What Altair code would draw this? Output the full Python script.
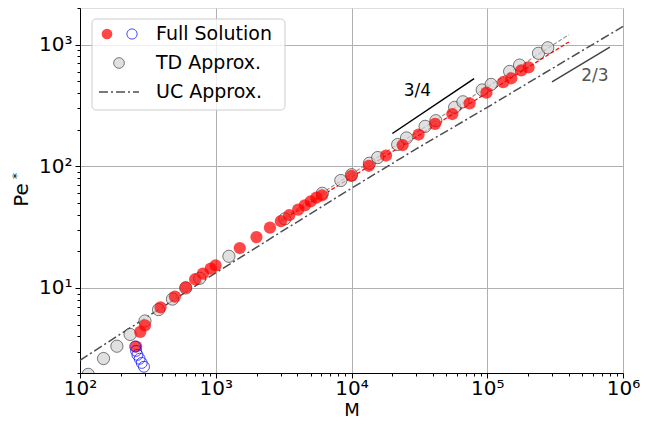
import altair as alt
import pandas as pd

# ---- data ----
td_M = [115, 149, 187, 234, 301, 379, 480, 601, 762, 1250, 3228, 6095, 8340, 10000,
        13550, 15600, 21880, 25450, 34860, 41800, 57500, 66200, 91800, 106900,
        146200, 173000, 238400, 279000]
td_Pe = [1.95, 2.63, 3.32, 4.15, 5.35, 6.64, 8.1, 10.0, 12.0, 18.2, 37.0, 60.0, 76.4, 85.3,
         106, 118, 151, 171, 213, 237, 305, 339, 424, 471, 602, 679, 849, 942]

full_M = [259, 278, 301, 392, 500, 601, 705, 805, 918, 998, 1503, 1995, 2508, 3020, 3475,
          4046, 4528, 5010, 5512, 6066, 10000, 13430, 17960, 23800, 31190, 41230, 55300,
          74130, 98700, 130900, 150400, 178000, 201500]
full_Pe = [3.3, 4.35, 4.93, 6.93, 8.5, 10.1, 11.8, 13.1, 14.4, 15.3, 21.3, 26.2, 31.3, 35.4,
           39.6, 44.1, 47.8, 51.6, 55.2, 57.8, 83.4, 101, 122.6, 149.6, 182.5, 223.5, 269,
           329, 403, 491, 529, 614, 650]

unstable_M = [255, 259, 265, 275, 285, 296]
unstable_Pe = [3.3, 3.04, 2.82, 2.62, 2.42, 2.25]

uc_M = [100, 200, 500, 1000, 3000, 10000, 30000, 100000, 300000, 1000000]
uc_Pe = [2.54, 4.2, 8.1, 13.3, 28.7, 66, 139, 305, 635, 1410]

fit_full_M = [3000, 400000]
fit_full_Pe = [35.3, 1053]
fit_td_M = [3000, 400000]
fit_td_Pe = [36.5, 1208]

slope34_M = [20000, 80000]
slope34_Pe = [186, 526]
slope23_M = [300000, 800000]
slope23_Pe = [495, 952]

slope_labels = ["3/4", "2/3"]
slope_label_M = [30600, 620000]
slope_label_Pe = [419, 551]

legend_labels = ["Full Solution", "TD Approx.", "UC Approx."]

x_major = [100, 1000, 10000, 100000, 1000000]
x_minor = [m * d for d in [100, 1000, 10000, 100000] for m in range(2, 10)]
y_major = [10, 100, 1000]
y_minor = [m * d for d in [1, 10, 100] for m in range(2, 10)] + [2000]

FONT = "DejaVu Sans"
DEC = "abs(log(datum.value)/LN10 - round(log(datum.value)/LN10)) < 0.001"

xs = alt.Scale(type="log", domain=[100, 1000000], nice=False)
ys = alt.Scale(type="log", domain=[2, 2000], nice=False)

xaxis = alt.Axis(
    values=x_major + x_minor,
    labelExpr="datum.value == 100 ? '10²' : datum.value == 1000 ? '10³' : datum.value == 10000 ? '10⁴' : datum.value == 100000 ? '10⁵' : datum.value == 1000000 ? '10⁶' : ''",
    labelOverlap=False, labelFlush=False, labelFont=FONT, labelFontSize=20,
    labelColor="black", labelPadding=0,
    tickSize={"condition": {"test": DEC, "value": 5}, "value": 3},
    tickColor="black", tickWidth=1,
    gridOpacity={"condition": {"test": DEC, "value": 1}, "value": 0},
    gridColor="#b0b0b0", gridWidth=1,
    domainColor="black", domainWidth=1,
    title="M", titleFont=FONT, titleFontSize=18, titleFontWeight="normal",
    titleColor="black", titleBaseline="alphabetic", titleY=42.5,
)
yaxis = alt.Axis(
    values=y_major + y_minor,
    labelExpr="datum.value == 10 ? '10¹' : datum.value == 100 ? '10²' : datum.value == 1000 ? '10³' : ''",
    labelOverlap=False, labelFlush=False, labelFont=FONT, labelFontSize=20,
    labelColor="black", labelPadding=3,
    tickSize={"condition": {"test": DEC, "value": 5}, "value": 3},
    tickColor="black", tickWidth=1,
    gridOpacity={"condition": {"test": DEC, "value": 1}, "value": 0},
    gridColor="#b0b0b0", gridWidth=1,
    domainColor="black", domainWidth=1,
    title=None,
)


def enc(ch):
    return ch.encode(
        x=alt.X("M:Q", scale=xs, axis=xaxis),
        y=alt.Y("Pe:Q", scale=ys, axis=yaxis),
    )


def df(m, p):
    return pd.DataFrame({"M": m, "Pe": p})


uc = enc(alt.Chart(df(uc_M, uc_Pe)).mark_line(
    color="#4d4d4d", strokeWidth=1.5, strokeDash=[9, 3, 2, 3]))
fit_td = enc(alt.Chart(df(fit_td_M, fit_td_Pe)).mark_line(
    color="#999999", strokeWidth=1.2, strokeDash=[4, 2]))
fit_full = enc(alt.Chart(df(fit_full_M, fit_full_Pe)).mark_line(
    color="red", strokeWidth=1.2, strokeDash=[4, 2]))
td = enc(alt.Chart(df(td_M, td_Pe)).mark_point(
    shape="circle", filled=True, size=150, fill="#d3d3d3", fillOpacity=0.7,
    stroke="black", strokeOpacity=0.5, strokeWidth=1, clip=True))
full = enc(alt.Chart(df(full_M, full_Pe)).mark_point(
    shape="circle", filled=True, size=150, color="red", opacity=0.72))
unstable = enc(alt.Chart(df(unstable_M, unstable_Pe)).mark_point(
    shape="circle", filled=False, size=120, color="blue", opacity=0.7, strokeWidth=1))
s34 = enc(alt.Chart(df(slope34_M, slope34_Pe)).mark_line(color="black", strokeWidth=1.5))
s23 = enc(alt.Chart(df(slope23_M, slope23_Pe)).mark_line(color="#444444", strokeWidth=1.5))
lab_df = pd.DataFrame({"M": slope_label_M, "Pe": slope_label_Pe, "t": slope_labels,
                       "c": ["black", "#555555"]})
labs = alt.Chart(lab_df).mark_text(font=FONT, fontSize=17, align="center",
                                   baseline="middle").encode(
    x=alt.X("M:Q", scale=xs, axis=xaxis),
    y=alt.Y("Pe:Q", scale=ys, axis=yaxis),
    text="t:N",
    color=alt.Color("c:N", scale=None),
)

one = pd.DataFrame({"a": [0]})
box = alt.Chart(one).mark_rect(fill="white", fillOpacity=0.8, stroke="#cccccc",
                               strokeWidth=1, cornerRadius=4).encode(
    x=alt.value(12), x2=alt.value(205), y=alt.value(11), y2=alt.value(102))
leg_red = alt.Chart(one).mark_point(shape="circle", filled=True, size=115, color="red",
                                    opacity=0.72).encode(x=alt.value(27), y=alt.value(26))
leg_blue = alt.Chart(one).mark_point(shape="circle", filled=False, size=105, color="blue",
                                     opacity=0.7, strokeWidth=1).encode(
    x=alt.value(52), y=alt.value(26))
leg_gray = alt.Chart(one).mark_point(shape="circle", filled=True, size=115, fill="#d3d3d3",
                                     fillOpacity=0.7, stroke="black", strokeOpacity=0.5,
                                     strokeWidth=1).encode(x=alt.value(39), y=alt.value(55))
leg_line = alt.Chart(one).mark_rule(color="#4d4d4d", strokeWidth=1.5,
                                    strokeDash=[9, 3, 2, 3]).encode(
    x=alt.value(19), x2=alt.value(59), y=alt.value(84))
leg_texts = [
    alt.Chart(one).mark_text(text=t, font=FONT, fontSize=19, align="left",
                             baseline="middle", color="black").encode(
        x=alt.value(76), y=alt.value(yy))
    for t, yy in zip(legend_labels, [26, 55, 84])
]

ytitle = alt.Chart(one).mark_text(text="Pe", font=FONT, fontSize=20, angle=270,
                                  align="center", baseline="middle", color="black").encode(
    x=alt.value(-58.5), y=alt.value(187))
ystar = alt.Chart(one).mark_text(text="*", font=FONT, fontSize=13, angle=270,
                                 align="center", baseline="middle", color="black").encode(
    x=alt.value(-63), y=alt.value(168))

chart = alt.layer(
    uc, fit_td, fit_full, td, full, unstable, s34, s23, labs,
    box, leg_red, leg_blue, leg_gray, leg_line, *leg_texts, ytitle, ystar,
).properties(
    width=543, height=365,
    autosize=alt.AutoSizeParams(type="none"),
    padding={"left": 72, "top": 0, "right": 17, "bottom": 47},
).configure_view(stroke="black", strokeWidth=1).configure(background="white")

chart.save("out.html", embed_options={"renderer": "svg", "actions": False})
